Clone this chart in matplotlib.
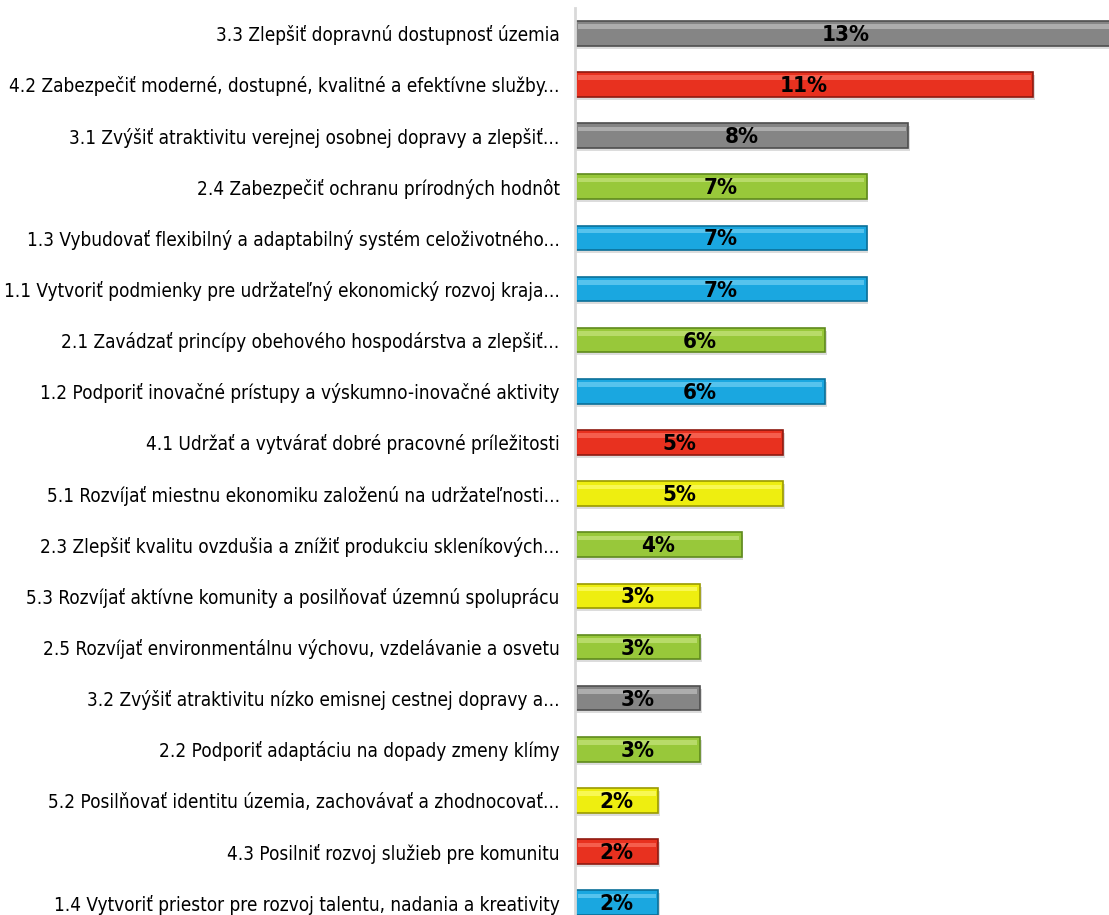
import matplotlib
matplotlib.use("Agg")
import matplotlib.pyplot as plt
from matplotlib import font_manager as fm
import numpy as np

# data, top to bottom as in the picture
labels = [
    "3.3 Zlepšiť dopravnú dostupnosť územia",
    "4.2 Zabezpečiť moderné, dostupné, kvalitné a efektívne služby...",
    "3.1 Zvýšiť atraktivitu verejnej osobnej dopravy a zlepšiť...",
    "2.4 Zabezpečiť ochranu prírodných hodnôt",
    "1.3 Vybudovať flexibilný a adaptabilný systém celoživotného...",
    "1.1 Vytvoriť podmienky pre udržateľný ekonomický rozvoj kraja...",
    "2.1 Zavádzať princípy obehového hospodárstva a zlepšiť...",
    "1.2 Podporiť inovačné prístupy a výskumno-inovačné aktivity",
    "4.1 Udržať a vytvárať dobré pracovné príležitosti",
    "5.1 Rozvíjať miestnu ekonomiku založenú na udržateľnosti...",
    "2.3 Zlepšiť kvalitu ovzdušia a znížiť produkciu skleníkových...",
    "5.3 Rozvíjať aktívne komunity a posilňovať územnú spoluprácu",
    "2.5 Rozvíjať environmentálnu výchovu, vzdelávanie a osvetu",
    "3.2 Zvýšiť atraktivitu nízko emisnej cestnej dopravy a...",
    "2.2 Podporiť adaptáciu na dopady zmeny klímy",
    "5.2 Posilňovať identitu územia, zachovávať a zhodnocovať...",
    "4.3 Posilniť rozvoj služieb pre komunitu",
    "1.4 Vytvoriť priestor pre rozvoj talentu, nadania a kreativity",
]
values = [13, 11, 8, 7, 7, 7, 6, 6, 5, 5, 4, 3, 3, 3, 3, 2, 2, 2]
groups = [3, 4, 3, 2, 1, 1, 2, 1, 4, 5, 2, 5, 2, 3, 2, 5, 4, 1]

group_colors = {1: "#1aa7e0", 2: "#98c83a", 3: "#858585", 4: "#e8311f", 5: "#eeee10"}
group_edges = {1: "#0b6f98", 2: "#5f8a1c", 3: "#4e4e4e", 4: "#8e1a10", 5: "#9a9a00"}
group_light = {1: "#7fd6f7", 2: "#cfe98a", 3: "#c8c8c8", 4: "#ff7d6c", 5: "#ffff80"}

# look for a narrow font, the reference uses a condensed face
narrow = None
for f in fm.fontManager.ttflist:
    n = f.name.lower()
    if "narrow" in n or "condensed" in n or "condensed" in str(f.stretch):
        narrow = f
        break
if narrow is not None:
    plt.rcParams["font.family"] = [narrow.name, "DejaVu Sans"]
    plt.rcParams["font.stretch"] = narrow.stretch
else:
    plt.rcParams["font.family"] = ["DejaVu Sans"]

fig = plt.figure(figsize=(11.09, 9.15), dpi=100)
ax = fig.add_axes([0.5185, -0.0145, 0.49, 1.0061])

y = np.arange(len(values))
cols = [group_colors[g] for g in groups]
edges = [group_edges[g] for g in groups]
lights = [group_light[g] for g in groups]

# shadow, bar, highlight
ax.barh(y + 0.06, np.array(values) + 0.04, height=0.48, color="#dcdcdc", zorder=1)
ax.barh(y, values, height=0.48, color=cols, edgecolor=edges, linewidth=1.2, zorder=2)
ax.barh(y - 0.13, np.array(values) - 0.12, left=0.06, height=0.09, color=lights,
        alpha=0.6, linewidth=0, zorder=3)

for yi, v in zip(y, values):
    ax.text(v / 2, yi + 0.03, f"{v}%", ha="center", va="center", fontsize=16,
            fontweight="bold", color="black", zorder=4)

ax.set_xlim(0, 13.05)
ax.set_ylim(len(values) - 0.5, -0.5)
ax.set_yticks(y)
ax.set_yticklabels(labels, fontsize=15)
ax.tick_params(axis="y", length=0, pad=11)
ax.set_xticks([])
for s in ["top", "right", "bottom"]:
    ax.spines[s].set_visible(False)
ax.spines["left"].set_color("#d9d9d9")
ax.spines["left"].set_linewidth(2)

# shrink labels so the longest one fits left of the axis
fig.canvas.draw()
r = fig.canvas.get_renderer()
widest = max(t.get_window_extent(r).width for t in ax.get_yticklabels())
avail = 575 - 11 - 8
if widest > avail:
    fs = 15 * avail / widest
    for t in ax.get_yticklabels():
        t.set_fontsize(fs)

fig.savefig("out.png", dpi=100)
